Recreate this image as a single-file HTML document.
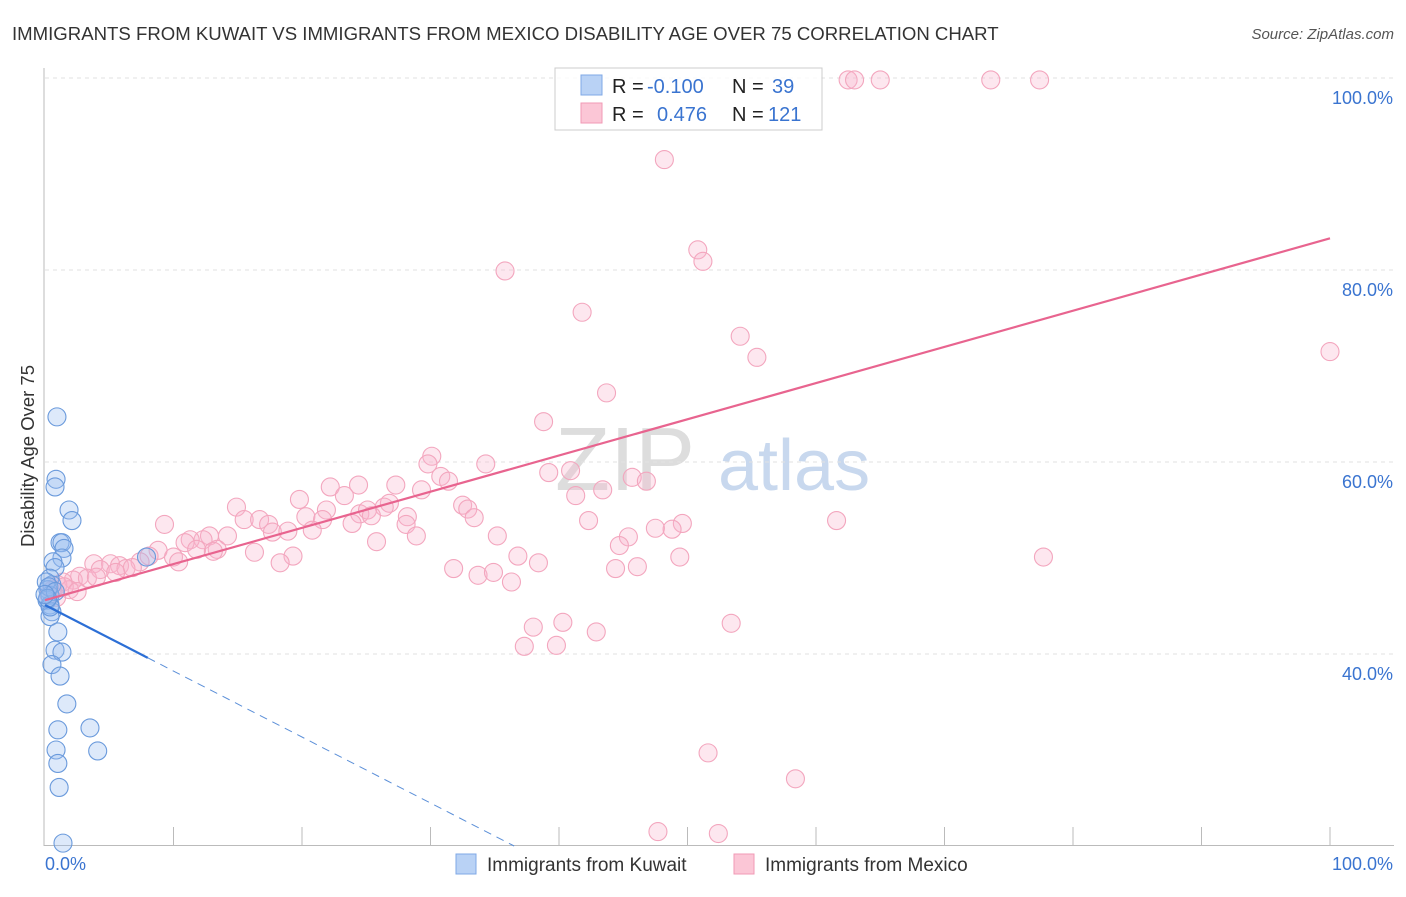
<!DOCTYPE html>
<html><head><meta charset="utf-8"><style>
body{margin:0;background:#fff;font-family:"Liberation Sans",sans-serif}
svg text{font-family:"Liberation Sans",sans-serif}
</style></head><body>
<svg id="c" width="1406" height="892" viewBox="0 0 1406 892">
<text x="12" y="40" font-size="18.6" fill="#333">IMMIGRANTS FROM KUWAIT VS IMMIGRANTS FROM MEXICO DISABILITY AGE OVER 75 CORRELATION CHART</text>
<text x="1394" y="39" font-size="15" fill="#555" font-style="italic" text-anchor="end">Source: ZipAtlas.com</text>
<text transform="translate(34,456) rotate(-90)" font-size="18.5" fill="#333" text-anchor="middle">Disability Age Over 75</text>
<g><text x="555" y="490" font-size="90" font-family="Liberation Serif" fill="#ddd">ZIP</text><text x="718" y="490" font-size="72" fill="#c8d8ee">atlas</text></g>
<g id="grid"></g><g id="axes"></g><g id="pts"></g><g id="trend"></g>
<g>
<rect x="555" y="68" width="267" height="62" fill="#fff" fill-opacity="0.8" stroke="#ccc"/>
<rect x="581" y="75" width="21" height="20" fill="#b9d2f5" stroke="#7fa8e6"/>
<rect x="581" y="103" width="21" height="20" fill="#fbc6d6" stroke="#f09ab5"/>
<text x="612" y="93" font-size="20" fill="#222">R = </text><text x="647" y="93" font-size="20" fill="#3a74d0">-0.100</text>
<text x="732" y="93" font-size="20" fill="#222">N = </text><text x="772" y="93" font-size="20" fill="#3a74d0">39</text>
<text x="612" y="121" font-size="20" fill="#222">R = </text><text x="657" y="121" font-size="20" fill="#3a74d0">0.476</text>
<text x="732" y="121" font-size="20" fill="#222">N = </text><text x="768" y="121" font-size="20" fill="#3a74d0">121</text>
</g>
<g>
<rect x="456" y="854" width="20" height="20" fill="#b9d2f5" stroke="#7fa8e6"/>
<text x="487" y="871" font-size="19" fill="#333">Immigrants from Kuwait</text>
<rect x="734" y="854" width="20" height="20" fill="#fbc6d6" stroke="#f09ab5"/>
<text x="765" y="871" font-size="19" fill="#333">Immigrants from Mexico</text>
</g>
</svg>
<script>
const yTicks=[40,60,80,100];
const yTickLabels=["40.0%","60.0%","80.0%","100.0%"];
const xTickLabels=["0.0%","100.0%"];
const kuwaitX=[0.93,0.86,0.78,1.87,2.1,1.17,1.32,1.48,1.32,0.62,0.78,0.39,0.54,0.23,0.39,0.16,0.39,0.54,0.39,1.0,0.78,1.32,0.54,1.17,1.7,1.0,3.5,0.86,4.1,1.0,1.1,1.4,7.9,0.1,0.3,0.8,0.4,0.2,0.0];
const kuwaitY=[64.7,58.2,57.4,55.0,53.9,51.6,51.6,51.0,50.0,49.6,49.0,47.9,47.2,46.7,46.1,45.6,45.1,44.4,43.9,42.3,40.4,40.2,38.9,37.7,34.8,32.1,32.3,30.0,29.9,28.6,26.1,20.3,50.1,47.5,47.0,46.5,44.9,45.8,46.2];
const mexicoX=[62.5,63.0,65.0,73.6,77.4,48.2,35.8,50.8,51.2,41.8,54.1,55.4,100,43.7,38.8,30.1,34.3,29.8,39.2,40.9,45.7,46.8,30.8,31.4,22.2,24.4,27.3,29.3,19.8,23.3,41.3,43.4,14.9,26.8,26.4,32.5,32.9,21.9,24.5,25.1,25.4,28.2,28.1,33.4,20.3,15.5,16.7,17.4,21.6,23.9,49.6,48.8,47.5,42.3,61.6,9.3,17.7,18.9,20.8,28.9,45.4,44.7,35.2,25.8,12.8,12.3,11.3,10.9,14.2,11.8,13.4,8.8,10.0,8.1,16.3,19.3,36.8,38.4,49.4,77.7,18.3,10.4,7.4,3.8,5.1,5.8,6.3,6.8,4.3,2.7,2.2,3.3,1.4,1.0,1.9,0.6,0.9,44.4,46.1,31.8,33.7,34.9,36.3,38.0,40.3,42.9,53.4,37.3,39.8,51.6,58.4,47.7,52.4,13.1,1.5,2.5,4.0,5.5,0.3];
const mexicoY=[99.8,99.8,99.8,99.8,99.8,91.5,79.9,82.1,80.9,75.6,73.1,70.9,71.5,67.2,64.2,60.6,59.8,59.8,58.9,59.1,58.4,58.0,58.5,58.0,57.4,57.6,57.6,57.1,56.1,56.5,56.5,57.1,55.3,55.7,55.3,55.5,55.1,55.0,54.6,55.0,54.4,54.3,53.5,54.2,54.3,54.0,54.0,53.5,54.0,53.6,53.6,53.0,53.1,53.9,53.9,53.5,52.7,52.8,52.9,52.3,52.2,51.3,52.3,51.7,52.3,51.9,51.9,51.6,52.3,50.9,50.9,50.8,50.1,50.2,50.6,50.2,50.2,49.5,50.1,50.1,49.5,49.6,49.6,49.4,49.4,49.2,48.9,49.0,48.8,48.1,47.7,47.9,47.5,47.2,46.7,46.7,45.9,48.9,49.1,48.9,48.2,48.5,47.5,42.8,43.3,42.3,43.2,40.8,40.9,29.7,27.0,21.5,21.3,50.7,47.0,46.5,48.0,48.5,46.2];
const kuwaitTrend=[45.1,39.6,8];
const mexicoTrend=[45.6,83.3];
const NS="http://www.w3.org/2000/svg";
const xs=v=>45+v*12.85, ys=v=>1038-v*9.6;
function mk(tag,attrs,parent){const e=document.createElementNS(NS,tag);for(const k in attrs)e.setAttribute(k,attrs[k]);document.getElementById(parent).appendChild(e);return e;}
yTicks.forEach((t,i)=>{
 const l=mk('line',{x1:45,x2:1394,y1:ys(t),y2:ys(t),stroke:'#e2e2e2','stroke-dasharray':'4,4'},'grid');
 
 
 const tx=mk('text',{x:1393,y:ys(t)+26,'font-size':18,fill:'#3a74d0','text-anchor':'end'},'grid');
 tx.textContent=yTickLabels[i];
 
 
});
mk('line',{x1:44,x2:44,y1:68,y2:846,stroke:'#bbb'},'axes');
mk('line',{x1:44,x2:1394,y1:845.5,y2:845.5,stroke:'#bbb'},'axes');
for(let i=1;i<=10;i++){const t=mk('line',{x1:xs(i*10),x2:xs(i*10),y1:827,y2:846,stroke:'#bbb'},'axes');
 
 }
const xl0=mk('text',{x:45,y:870,'font-size':18,fill:'#3a74d0'},'axes');xl0.textContent=xTickLabels[0];


const xl1=mk('text',{x:1393,y:870,'font-size':18,fill:'#3a74d0','text-anchor':'end'},'axes');xl1.textContent=xTickLabels[1];


mexicoX.forEach((x,i)=>{const c=mk('circle',{cx:xs(x),cy:ys(mexicoY[i]),r:9,fill:'rgba(248,180,204,0.32)',stroke:'#f3a6be','stroke-width':1.1},'pts');
 
 });
kuwaitX.forEach((x,i)=>{const c=mk('circle',{cx:xs(x),cy:ys(kuwaitY[i]),r:9,fill:'rgba(150,188,238,0.32)',stroke:'#6a9adc','stroke-width':1.1},'pts');
 
 });
const m=mk('line',{x1:xs(0),y1:ys(mexicoTrend[0]),x2:xs(100),y2:ys(mexicoTrend[1]),stroke:'#e8648f','stroke-width':2.2},'trend');


const slope=(kuwaitTrend[1]-kuwaitTrend[0])/kuwaitTrend[2];
const k=mk('line',{x1:xs(0),y1:ys(kuwaitTrend[0]),x2:xs(kuwaitTrend[2]),y2:ys(kuwaitTrend[1]),stroke:'#2c6fd6','stroke-width':2.2},'trend');


const xEnd=(20-kuwaitTrend[0])/slope;
const kd=mk('line',{x1:xs(kuwaitTrend[2]),y1:ys(kuwaitTrend[1]),x2:xs(xEnd),y2:ys(20),stroke:'#5b8fd8','stroke-width':1,'stroke-dasharray':'8,6'},'trend');


</script>
</body></html>
